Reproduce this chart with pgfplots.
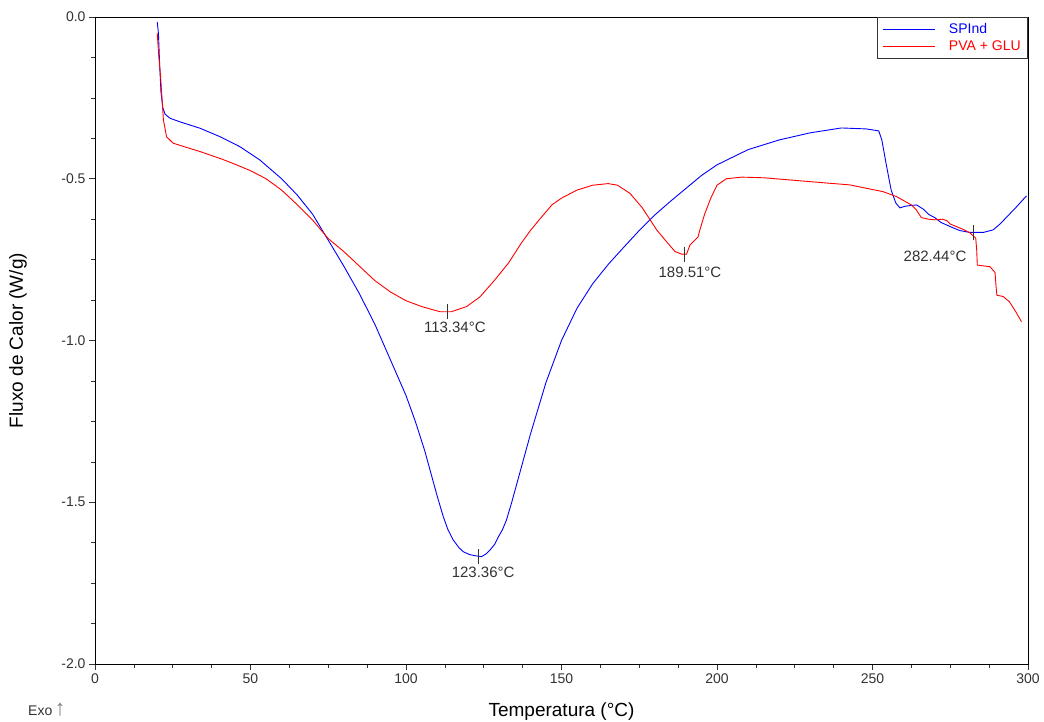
\documentclass[border=0pt]{standalone}
\usepackage{pgfplots}
\pgfplotsset{compat=1.18}
\usepackage{fontspec}
\setmainfont{Liberation Sans}
\definecolor{txt}{RGB}{50,50,50}

\begin{document}
\begin{tikzpicture}
\path[use as bounding box] (-95pt,-58pt) rectangle (949pt,664pt);
\begin{axis}[
  at={(0,0)}, anchor=south west,
  scale only axis,
  width=933pt, height=647pt,
  xmin=0, xmax=300,
  ymin=-2, ymax=0,
  xtick={0,50,...,300},
  ytick={-2,-1.5,-1,-0.5,0},
  minor tick num=3,
  xtick pos=left, ytick pos=left,
  tick align=outside,
  major tick length=6pt, minor tick length=4pt,
  tick style={black!80, line width=0.6pt},
  axis line style={black, line width=0.8pt},
  /pgf/number format/assume math mode=true,
  yticklabel style={/pgf/number format/fixed, /pgf/number format/precision=1,
    /pgf/number format/fixed zerofill, font=\fontsize{14}{16}\selectfont, text=txt},
  xticklabel style={font=\fontsize{14}{16}\selectfont, text=txt},
  xlabel={Temperatura (°C)},
  ylabel={Fluxo de Calor (W/g)},
  xlabel style={font=\fontsize{19}{22}\selectfont, at={(axis description cs:0.5,-0.0742)}, anchor=center},
  ylabel style={font=\fontsize{19}{22}\selectfont, at={(axis description cs:-0.0825,0.5)}, anchor=center},
  legend style={at={(1,1)}, anchor=north east, draw=black!80, line width=0.6pt,
    font=\fontsize{14}{16}\selectfont, row sep=2pt, inner xsep=5pt, inner ysep=4pt,
    /tikz/every odd column/.append style={column sep=12pt}},
  legend cell align=left,
  legend image code/.code={\draw[#1] (0pt,0pt) -- (52pt,0pt);},
]

\addplot[blue, line width=0.9pt] coordinates {
(20.0,-0.015)(20.4,-0.05)(20.8,-0.15)(21.2,-0.23)(21.8,-0.28)(22.5,-0.300)
(24.1,-0.313)(27.3,-0.324)(33.8,-0.344)(40.2,-0.370)(46.6,-0.401)(53,-0.442)
(60,-0.50)(65,-0.55)(70,-0.61)(75,-0.69)(80,-0.77)(85,-0.855)(90,-0.95)
(95,-1.06)(100,-1.17)(103,-1.25)(106,-1.34)(108,-1.41)(110,-1.48)
(112,-1.545)(113.5,-1.585)(115.2,-1.617)(117,-1.64)(118.4,-1.653)
(120.5,-1.662)(122.7,-1.666)(124.3,-1.668)(125.7,-1.66)(127,-1.648)
(128.5,-1.63)(129.7,-1.607)(131,-1.585)(132.3,-1.555)(134,-1.50)
(136,-1.43)(138,-1.36)(140,-1.29)(145,-1.13)(150,-1.0)(155,-0.90)
(160,-0.825)(165,-0.765)(170,-0.712)(175,-0.66)(180,-0.612)(185,-0.57)
(190,-0.53)(195,-0.49)(200,-0.457)(210,-0.41)(220,-0.38)(230,-0.358)
(240,-0.343)(248,-0.346)(252,-0.352)(253,-0.38)(254.5,-0.46)(256,-0.535)
(257.5,-0.575)(258.8,-0.59)(260.5,-0.585)(262,-0.583)(264.2,-0.581)
(266.5,-0.595)(268,-0.61)(270,-0.62)(272,-0.635)(275,-0.648)(278,-0.66)
(281.3,-0.666)(285.6,-0.666)(288.8,-0.658)(291,-0.64)(293,-0.62)(296,-0.59)
(299.5,-0.553)
};
\addlegendentry{\textcolor{blue}{SPInd}}

\addplot[red, line width=0.9pt] coordinates {
(20,-0.05)(20.5,-0.12)(21.1,-0.185)(21.6,-0.26)(22,-0.318)(23,-0.37)
(25.1,-0.39)(28.4,-0.40)(33.8,-0.416)(40.7,-0.439)(45,-0.455)(50,-0.475)
(55,-0.50)(60,-0.535)(65,-0.58)(70,-0.628)(75,-0.685)(80,-0.725)(85,-0.77)
(90,-0.815)(95,-0.85)(100,-0.877)(105,-0.895)(110.9,-0.911)
(114.6,-0.911)(119.5,-0.895)(123.8,-0.865)(128.1,-0.818)(133,-0.76)
(137,-0.70)(140,-0.66)(143,-0.625)(147,-0.58)(150,-0.56)(155,-0.535)
(160,-0.52)(165,-0.515)(168,-0.52)(172,-0.545)(176,-0.59)(180.6,-0.658)
(183.8,-0.695)(186.5,-0.725)(188.6,-0.733)(190.2,-0.733)(191.3,-0.705)
(192.3,-0.695)(193.9,-0.68)(194.5,-0.658)(196,-0.61)(198,-0.56)(200,-0.52)
(203,-0.50)(208,-0.495)(215,-0.497)(225,-0.505)(235,-0.513)(242.7,-0.519)
(253.4,-0.54)(257.7,-0.555)(262.5,-0.581)(264,-0.595)(265.7,-0.62)
(268,-0.625)(270,-0.627)(272.5,-0.625)(274,-0.63)(275,-0.64)(279,-0.656)
(281.3,-0.667)(283.2,-0.684)(283.5,-0.72)(283.7,-0.767)(287.8,-0.772)
(289.4,-0.79)(289.7,-0.83)(290,-0.86)(292,-0.864)(294,-0.88)(296,-0.91)
(297.9,-0.942)
};
\addlegendentry{\textcolor{red}{PVA + GLU}}

\addplot[only marks, mark=|, mark size=7.5pt, txt, line width=0.6pt, forget plot] coordinates {
(113.34,-0.911)(189.51,-0.733)(123.36,-1.668)(282.44,-0.667)
};

\node[text=txt, font=\fontsize{15}{17}\selectfont] at (axis cs:115.7,-0.958) {113.34°C};
\node[text=txt, font=\fontsize{15}{17}\selectfont] at (axis cs:191.3,-0.788) {189.51°C};
\node[text=txt, font=\fontsize{15}{17}\selectfont] at (axis cs:124.8,-1.716) {123.36°C};
\node[text=txt, font=\fontsize{15}{17}\selectfont] at (axis cs:270.1,-0.739) {282.44°C};
\end{axis}
\node[anchor=west, inner sep=0pt, text=txt, font=\fontsize{14}{16}\selectfont] at (-67pt,-46pt) {Exo\,\textcolor{gray}{\fontsize{22}{22}\selectfont↑}};
\end{tikzpicture}
\end{document}
